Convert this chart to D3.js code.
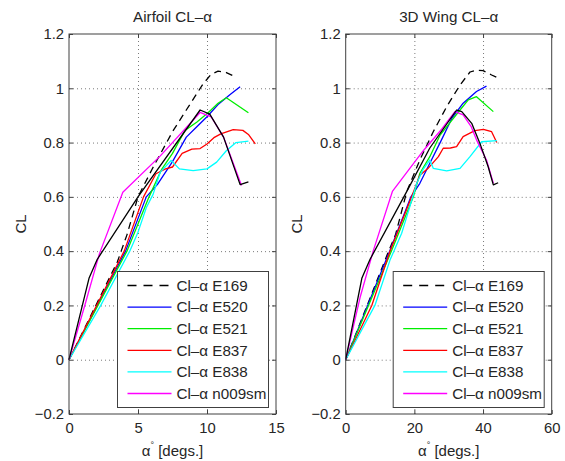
<!DOCTYPE html>
<html><head><meta charset="utf-8">
<script src="https://cdn.jsdelivr.net/npm/d3@7/dist/d3.min.js"></script>
<style>
body{margin:0;background:#fff;}
svg{display:block;font-family:"Liberation Sans",Arial,Helvetica,sans-serif;}
</style>
</head><body>
<svg id="chart" width="565" height="461"></svg>
<script>
// ---------- data ----------
const seriesNames = ["Cl–α E169", "Cl–α E520", "Cl–α E521", "Cl–α E837", "Cl–α E838", "Cl–α n009sm"];
const seriesColors = ["#000000", "#0000ff", "#00ee00", "#ff0000", "#00ffff", "#ff00ff"];
const extraColor = "#000000"; // unlabelled solid black curve

const yTicks = [-0.2, 0, 0.2, 0.4, 0.6, 0.8, 1, 1.2];
const yTickLabels = ["\u22120.2", "0", "0.2", "0.4", "0.6", "0.8", "1", "1.2"];
const airfoilXTicks = [0, 5, 10, 15];
const airfoilXTickLabels = ["0", "5", "10", "15"];
const wingXTicks = [0, 20, 40, 60];
const wingXTickLabels = ["0", "20", "40", "60"];

// Airfoil (2D) curves: [alpha, CL]
const airfoilE169 = [[0,0],[3.5,0.36],[4.2,0.46],[5.0,0.60],[6.0,0.70],[7.5,0.84],[8.5,0.92],[9.7,1.015],[10.3,1.052],[10.8,1.063],[11.4,1.058],[11.9,1.046]];
const airfoilE520 = [[0,0],[4.1,0.40],[5.6,0.60],[6.4,0.645],[7.5,0.73],[8.5,0.82],[9.3,0.86],[10.0,0.895],[10.8,0.94],[11.7,0.978],[12.4,1.006]];
const airfoilE521 = [[0,0],[4.2,0.40],[5.8,0.60],[6.7,0.70],[7.5,0.76],[8.4,0.845],[9.25,0.875],[10.1,0.911],[10.8,0.945],[11.4,0.965],[13.0,0.91]];
const airfoilE837 = [[0,0],[4.0,0.40],[5.4,0.60],[6.3,0.685],[7.0,0.703],[7.5,0.71],[8.2,0.76],[8.9,0.776],[9.5,0.778],[10.0,0.795],[10.5,0.818],[11.0,0.832],[11.9,0.848],[12.6,0.845],[13.0,0.83],[13.5,0.795]];
const airfoilE838 = [[0,0],[2.3,0.20],[4.4,0.40],[5.0,0.47],[5.6,0.56],[6.1,0.61],[6.6,0.69],[7.4,0.734],[8.0,0.703],[9.0,0.697],[10.0,0.703],[10.7,0.728],[11.4,0.77],[12.1,0.80],[13.0,0.805]];
const airfoilN009 = [[0,0],[1.2,0.21],[2.2,0.39],[3.9,0.617],[6.6,0.75],[9.5,0.911],[10.3,0.895],[11.2,0.82],[12.5,0.642]];
const airfoilExtra = [[0,0],[1.45,0.30],[2.05,0.37],[5.0,0.60],[9.5,0.92],[10.2,0.905],[11.2,0.82],[12.4,0.645],[13.0,0.655]];

// 3D wing curves: [alpha, CL]
const wingE169 = [[0,0],[12.5,0.40],[14.5,0.46],[17.8,0.62],[21.6,0.736],[25.5,0.84],[29.4,0.932],[33.3,1.012],[36.2,1.06],[38.1,1.067],[40.0,1.065],[42.5,1.049],[44.0,1.04]];
const wingE520 = [[0,0],[12.8,0.40],[19.0,0.60],[21.6,0.65],[24.5,0.724],[27.9,0.81],[30.9,0.889],[34.2,0.945],[38.1,0.988],[41.0,1.008]];
const wingE521 = [[0,0],[13.3,0.40],[19.7,0.60],[21.6,0.687],[24.5,0.748],[27.5,0.828],[30.5,0.875],[33.3,0.92],[35.7,0.957],[38.1,0.969],[43.0,0.914]];
const wingE837 = [[0,0],[7.6,0.20],[12.9,0.40],[19.2,0.60],[21.6,0.68],[24.0,0.705],[27.0,0.748],[28.4,0.779],[30.5,0.78],[32.3,0.785],[34.2,0.822],[37.6,0.844],[40.1,0.849],[42.5,0.84],[44.0,0.80]];
const wingE838 = [[0,0],[8.5,0.20],[12.9,0.367],[16.3,0.466],[17.8,0.527],[20.7,0.65],[22.5,0.70],[24.5,0.736],[25.5,0.705],[29.4,0.696],[33.3,0.705],[36.2,0.748],[39.6,0.803],[44.0,0.807]];
const wingN009 = [[0,0],[4.2,0.23],[8.0,0.40],[13.6,0.62],[22.6,0.77],[28.0,0.85],[31.8,0.914],[34.2,0.902],[36.5,0.86],[38.1,0.81],[41.0,0.736],[43.0,0.65]];
const wingExtra = [[0,0],[4.7,0.30],[7.1,0.37],[17.8,0.62],[24.5,0.78],[32.3,0.92],[33.8,0.914],[36.7,0.871],[39.1,0.797],[41.5,0.711],[43.0,0.644],[44.4,0.652]];

const panels = [
  {title: "Airfoil CL\u2013\u03b1", left: 69, right: 276, xDomain: [0, 15], xTicks: airfoilXTicks, xLabels: airfoilXTickLabels,
   ylabelX: 25.5, series: [airfoilE169, airfoilE520, airfoilE521, airfoilE837, airfoilE838, airfoilN009], extra: airfoilExtra},
  {title: "3D Wing CL\u2013\u03b1", left: 345.7, right: 551.7, xDomain: [0, 60], xTicks: wingXTicks, xLabels: wingXTickLabels,
   ylabelX: 302, series: [wingE169, wingE520, wingE521, wingE837, wingE838, wingN009], extra: wingExtra}
];

const TOP = 34, BOTTOM = 414;
const svg = d3.select("#chart");
svg.append("rect").attr("width", 565).attr("height", 461).attr("fill", "#fff");

const axisColor = "#404040";
const textColor = "#262626";

panels.forEach(p => {
  const g = svg.append("g");
  const x = d3.scaleLinear().domain(p.xDomain).range([p.left, p.right]);
  const y = d3.scaleLinear().domain([-0.2, 1.2]).range([BOTTOM, TOP]);

  // grid
  const gx = g.append("g").attr("transform", `translate(0,${BOTTOM})`)
    .call(d3.axisBottom(x).tickValues(p.xTicks.slice(1, -1)).tickSize(-(BOTTOM - TOP)).tickFormat(""));
  const gy = g.append("g").attr("transform", `translate(${p.left},0)`)
    .call(d3.axisLeft(y).tickValues(yTicks.slice(1, -1)).tickSize(-(p.right - p.left)).tickFormat(""));
  [gx, gy].forEach(a => {
    a.select(".domain").remove();
    a.selectAll("line").attr("stroke", "#7a7a7a").attr("stroke-width", 1).attr("stroke-dasharray", "1,3");
  });

  // curves
  const line = d3.line().x(d => x(d[0])).y(d => y(d[1]));
  const curves = p.series.map((s, i) => ({data: s, color: seriesColors[i], dash: i === 0 ? "7,5" : null}));
  curves.push({data: p.extra, color: extraColor, dash: null});
  g.append("g").selectAll("path").data(curves).join("path")
    .attr("d", d => line(d.data))
    .attr("fill", "none")
    .attr("stroke", d => d.color)
    .attr("stroke-width", 1.3)
    .attr("stroke-linejoin", "round")
    .attr("stroke-dasharray", d => d.dash);

  // axes (ticks inward on all four sides)
  const ab = g.append("g").attr("transform", `translate(0,${BOTTOM})`)
    .call(d3.axisBottom(x).tickValues(p.xTicks).tickSizeInner(-4).tickSizeOuter(0).tickPadding(8)
      .tickFormat((d, i) => p.xLabels[i]));
  const at = g.append("g").attr("transform", `translate(0,${TOP})`)
    .call(d3.axisTop(x).tickValues(p.xTicks).tickSizeInner(-4).tickSizeOuter(0).tickFormat(""));
  const al = g.append("g").attr("transform", `translate(${p.left},0)`)
    .call(d3.axisLeft(y).tickValues(yTicks).tickSizeInner(-4).tickSizeOuter(0).tickPadding(5)
      .tickFormat((d, i) => yTickLabels[i]));
  const ar = g.append("g").attr("transform", `translate(${p.right},0)`)
    .call(d3.axisRight(y).tickValues(yTicks).tickSizeInner(-4).tickSizeOuter(0).tickFormat(""));
  [ab, at, al, ar].forEach(a => {
    a.select(".domain").remove();
    a.selectAll("line").attr("stroke", axisColor);
    a.selectAll("text").attr("fill", textColor).attr("font-size", 14.8).attr("font-family", null);
  });

  g.append("rect").attr("x", p.left).attr("y", TOP).attr("width", p.right - p.left).attr("height", BOTTOM - TOP)
    .attr("fill", "none").attr("stroke", axisColor).attr("stroke-width", 1);

  // title
  g.append("text").attr("x", (p.left + p.right) / 2).attr("y", 21.5).attr("text-anchor", "middle")
    .attr("font-size", 15.2).attr("fill", textColor).text(p.title);

  // x label
  const xl = g.append("text").attr("x", (p.left + p.right) / 2).attr("y", 455.5).attr("text-anchor", "middle")
    .attr("font-size", 15).attr("fill", textColor);
  xl.append("tspan").text("\u03b1");
  xl.append("tspan").attr("font-size", 9).attr("dy", -8).text("\u00b0");
  xl.append("tspan").attr("dy", 8).text(" [degs.]");

  // y label
  g.append("text").attr("transform", `translate(${p.ylabelX},${(TOP + BOTTOM) / 2}) rotate(-90)`)
    .attr("text-anchor", "middle").attr("font-size", 15).attr("fill", textColor).text("CL");

  // legend
  const lw = 151, lh = 136;
  const lx = p.right - 7.5 - lw, ly = BOTTOM - 6.5 - lh;
  const lg = g.append("g").attr("transform", `translate(${lx},${ly})`);
  lg.append("rect").attr("width", lw).attr("height", lh).attr("fill", "#fff").attr("stroke", axisColor).attr("stroke-width", 1);
  const rows = lg.selectAll("g").data(seriesNames).join("g")
    .attr("transform", (d, i) => `translate(0,${14 + i * 21.6})`);
  rows.append("line").attr("x1", 10).attr("x2", 54).attr("y1", 0).attr("y2", 0)
    .attr("stroke", (d, i) => seriesColors[i]).attr("stroke-width", 1.3)
    .attr("stroke-dasharray", (d, i) => i === 0 ? "9,7" : null);
  rows.append("text").attr("x", 59).attr("y", 0).attr("dy", "0.35em").attr("font-size", 15.2).attr("fill", textColor).text(d => d);
});
</script>
</body></html>
